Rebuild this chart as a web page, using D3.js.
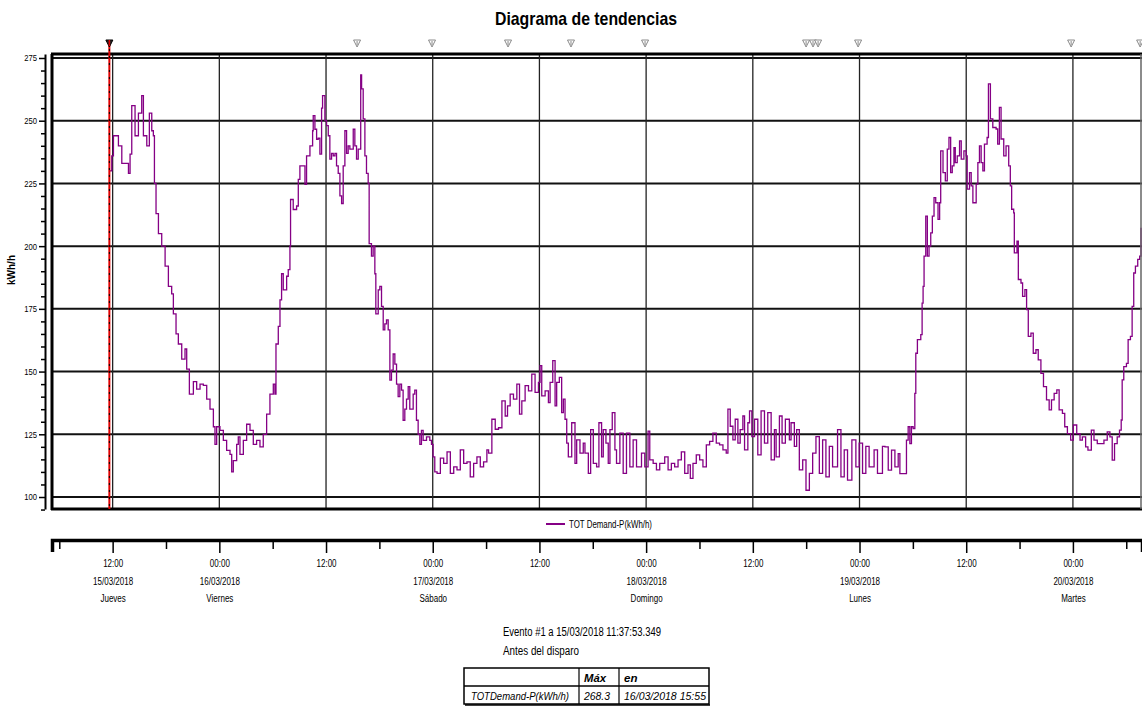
<!DOCTYPE html>
<html lang="es">
<head>
<meta charset="utf-8">
<script src="https://d3js.org/d3.v7.min.js"></script>
<style>
  body { margin: 0; background: #fff; }
  svg text { font-family: "Liberation Sans", Arial, sans-serif; fill: #000; }
</style>
</head>
<body>
<svg width="1142" height="708"></svg>
<script>
// hours after 15/03/2018 00:00
var sampleHours = [11.63,11.90,12.09,12.65,13.03,13.78,13.96,14.15,14.52,14.90,15.27,15.46,15.84,16.13,16.40,16.58,16.70,16.88,17.15,17.52,17.90,18.27,18.64,18.83,19.13,19.39,19.77,20.14,20.33,20.63,21.08,21.45,21.83,22.20,22.58,22.95,23.33,23.51,23.70,24.07,24.45,24.82,25.20,25.39,25.57,25.95,26.13,26.32,26.70,27.07,27.45,27.82,28.19,28.57,28.94,29.32,29.69,30.07,30.25,30.37,30.63,30.82,31.00,31.19,31.57,31.75,31.94,32.01,32.31,32.69,32.88,33.06,33.44,33.63,33.81,34.19,34.49,34.56,34.75,34.94,35.12,35.31,35.50,35.61,35.87,36.06,36.25,36.43,36.62,36.81,37.00,37.18,37.37,37.56,37.75,37.93,38.12,38.31,38.49,38.68,39.06,39.24,39.43,39.62,39.90,40.00,40.18,40.37,40.55,40.74,40.85,41.11,41.30,41.49,41.60,41.87,42.05,42.24,42.43,42.61,42.80,42.99,43.18,43.36,43.55,43.74,43.93,44.11,44.30,44.49,44.67,44.86,45.05,45.24,45.42,45.80,45.98,46.17,46.36,46.55,46.73,46.92,47.30,47.67,47.86,48.04,
  48.23,48.49,48.86,49.23,49.61,49.98,50.36,50.73,51.10,51.48,51.85,52.22,52.60,52.97,53.35,53.72,54.09,54.28,54.65,55.03,55.40,55.78,56.15,56.41,56.71,57.08,57.46,57.76,58.02,58.39,58.77,59.14,59.51,59.89,60.07,60.26,60.64,61.01,61.20,61.50,61.76,61.94,62.24,62.50,62.69,62.88,63.07,63.25,63.63,64.00,64.19,64.56,64.93,65.12,65.50,65.76,66.06,66.43,66.69,66.99,67.18,67.48,67.74,67.93,68.19,68.49,68.67,69.05,69.42,69.79,70.17,70.54,70.92,71.48,71.85,72.22,72.41,72.79,73.16,73.53,74.09,74.47,74.84,75.21,75.59,75.96,76.34,76.71,76.97,77.27,77.64,78.02,78.39,78.77,79.14,79.51,79.89,80.26,80.64,81.01,81.20,81.46,81.76,82.02,82.32,82.58,82.88,83.07,83.44,83.63,83.89,84.19,84.56,84.93,85.31,85.68,86.06,86.43,86.62,86.99,87.29,87.66,88.11,88.30,88.67,88.93,89.23,89.61,89.98,90.36,90.73,91.10,91.48,91.85,92.22,92.60,92.97,93.53,93.91,94.28,94.65,95.14,95.59,95.96,96.34,96.71,97.08,97.64,98.02,98.58,
  98.86,99.23,99.60,99.98,100.35,100.54,100.91,101.28,101.47,101.66,101.84,102.03,102.22,102.33,102.51,102.89,103.04,103.15,103.26,103.45,103.63,103.82,104.01,104.19,104.38,104.57,104.83,105.01,105.13,105.39,105.65,105.87,106.06,106.25,106.43,106.62,106.77,106.99,107.25,107.44,107.74,108.00,108.11,108.37,108.56,108.75,109.12,109.31,109.49,109.68,109.87,110.05,110.35,110.50,110.72,110.99,111.36,111.54,111.73,111.92,112.22,112.48,112.78,112.96,113.11,113.34,113.41,113.71,113.86,114.16,114.34,114.60,114.79,114.98,115.28,115.54,115.84,116.10,116.40,116.69,117.03,117.33,117.59,117.89,118.19,118.45,118.82,119.08,119.38,119.75,120.05,120.43,120.80,121.06,121.43,121.69,122.07,122.37,122.74,123.11,123.49,123.86,124.16,124.42,124.68,124.98,125.24,125.43,125.54,125.72,126.02,126.21,126.47,126.66,126.84,127.03,127.29,127.51,127.66];
var demandKWh = [230,236,244,240,233,229,236.7,256,244,253,260,244,240,253,246,244,225,213,205,200,192,184,181,173,165,161,155,159,151,141,146,143,145,144.5,139,135,128,121,128,126.6,122.6,118.6,117,110,114.5,121,124,117,122.6,129,126.6,121,122.6,120,125,133,141,145,141,161,168,178.6,189,182.6,188,190.6,200,218.6,214.6,216,226.6,232,232,224.6,236,240,246,252,246.6,242.6,243,236.7,255,260,250,248,244,234.7,237,236,237,232,229,220,217,232,246,237,240,238.7,246.6,240,234.7,238.7,268.3,262.7,250.7,236,229,225,201,196,200,189,173,182.6,184,176,166.6,169,170.6,166.6,146.6,150.6,157,153,145,140,145,142.6,130.6,135,139,144,135,141,142.6,130.6,125,121,126.6,122.6,124,122.6,121,116,
  110,109.4,115.5,113.4,118,109.4,112,110.8,118.8,113.4,114,108,113.4,116,112,114,118.8,117.5,131,127,127.6,138.3,132.3,136.3,141,139,145,133,138.3,144.4,142.3,149,141.7,145.7,152.4,140.3,142.3,137.6,145.7,154.4,136.3,145.7,147.7,133.6,139,131,121.5,116,129.6,113.4,122.8,117.5,121.5,117.5,109.4,126.9,113.4,112,129.6,116,126.9,121.5,113.4,126.9,133.6,118.8,113.4,125.5,109.4,125.5,112,122.8,112,117.5,112,126.3,114.8,113.4,110.8,113.4,116,110.8,113.4,112,114.8,118,109.4,112.8,107.4,113.4,116.8,114.8,112,120.8,122.2,125.5,121.5,120.8,118.8,117.5,135,128.2,122.8,131,121.5,126.9,132.3,118.8,129.6,134.3,124.1,131,116.8,134.3,121.5,133.6,114.8,126.9,116,132.3,121.5,131,122.8,129.6,120.2,126.9,110.8,114.8,102.7,109.4,117.5,124.1,109.4,122.8,108,120.2,112,126.9,108,118.8,106.7,122.8,112,121.5,109.4,120.2,112,118.8,109.4,120.2,
  120,110.7,118.7,112,117.3,109.3,109.3,122.7,128,121.3,128,127.3,141.3,157.3,162.7,164.7,177.3,184,196,212,196,200,205.3,212,219.3,217.3,210.7,217.3,238,229.3,226,238.7,243.3,229.3,232,239.3,233.3,236,242,234.7,238,236,222.7,229.3,224,217.3,224.7,233.3,240,233.3,230,240.7,243.3,264.7,250.7,247.3,246.7,240.7,255.3,242.7,236,240,232,224,214.7,213.3,197.3,202,186.7,185.3,180,182.7,174.7,164,165.3,157.3,158.7,154.7,149.3,144,138.7,134.7,138.7,141.3,142.7,134.7,133.3,128,125.3,122.7,128.7,125.3,122.7,124,120,118.7,126.7,122.7,121.3,121.3,122.7,126,124,114.7,121.3,124,126.7,130.7,146.7,152,153.3,162.7,164,176,189.3,192,194.7,196,207.3];
var markerHours = [39.49,47.92,56.47,63.55,71.88,89.99,90.77,91.34,95.84,119.80,127.56];
var eventHour = 11 + 37 / 60 + 53.349 / 3600;
var weekdays = ["Jueves", "Viernes", "Sábado", "Domingo", "Lunes", "Martes"];
var yGrid = [100, 125, 150, 175, 200, 225, 250, 275];
var seriesName = "TOT Demand-P(kWh/h)";
var tableHeader = ["", "Máx", "en"];
var tableRow = ["TOTDemand-P(kWh/h)", "268.3", "16/03/2018 15:55"];

var t0 = new Date(2018, 2, 15, 0, 0, 0);
function at(h) { return new Date(t0.getTime() + h * 3600e3); }

// squeeze text horizontally, the original uses a very narrow face
function squeeze(sel, k) {
  sel.each(function() {
    var w = this.getComputedTextLength();
    if (w > 0) d3.select(this).attr("textLength", w * k).attr("lengthAdjust", "spacingAndGlyphs");
  });
}

var svg = d3.select("svg");
var pLeft = 52, pRight = 1142, pTop = 54, pBottom = 509;

var x = d3.scaleTime().domain([at(5.18), at(127.77)]).range([pLeft, pRight]);
var y = d3.scaleLinear().domain([95.22, 276.59]).range([pBottom, pTop]);

// title
svg.append("text").attr("x", 586).attr("y", 25).attr("text-anchor", "middle")
  .style("font-size", "19px").style("font-weight", "bold")
  .attr("textLength", 182).attr("lengthAdjust", "spacingAndGlyphs")
  .text("Diagrama de tendencias");

// gridlines
var grid = svg.append("g");
grid.selectAll(".hg").data(yGrid).enter().append("line")
  .attr("x1", pLeft).attr("x2", pRight)
  .attr("y1", function(d) { return y(d); }).attr("y2", function(d) { return y(d); })
  .attr("stroke", "#111").attr("stroke-width", 2);
var vTicks = d3.timeHour.every(12).range(x.domain()[0], x.domain()[1]);
grid.selectAll(".vg").data(vTicks).enter().append("line")
  .attr("x1", function(d) { return x(d); }).attr("x2", function(d) { return x(d); })
  .attr("y1", pTop).attr("y2", pBottom)
  .attr("stroke", "#222").attr("stroke-width", 1.3);

// series
svg.append("clipPath").attr("id", "clip").append("rect")
  .attr("x", pLeft).attr("y", pTop).attr("width", pRight - pLeft).attr("height", pBottom - pTop);
var line = d3.line()
  .x(function(d, i) { return x(at(sampleHours[i])); })
  .y(function(d) { return y(d); })
  .curve(d3.curveStepAfter);
svg.append("path").datum(demandKWh)
  .attr("clip-path", "url(#clip)")
  .attr("fill", "none").attr("stroke", "#850085").attr("stroke-width", 1.3)
  .attr("d", line);

// plot frame
svg.append("line").attr("x1", pLeft - 1).attr("x2", pRight).attr("y1", pTop).attr("y2", pTop)
  .attr("stroke", "#000").attr("stroke-width", 3);
svg.append("line").attr("x1", pLeft - 1).attr("x2", pRight).attr("y1", pBottom).attr("y2", pBottom)
  .attr("stroke", "#000").attr("stroke-width", 3);
svg.append("line").attr("x1", pLeft).attr("x2", pLeft).attr("y1", pTop).attr("y2", pBottom + 1)
  .attr("stroke", "#000").attr("stroke-width", 3);
svg.append("line").attr("x1", pRight - 1).attr("x2", pRight - 1).attr("y1", pTop).attr("y2", pBottom)
  .attr("stroke", "#666").attr("stroke-width", 1.5);

// y axis
var yAxis = d3.axisLeft(y).tickValues(d3.range(95, 277, 5))
  .tickSize(4).tickSizeOuter(0).tickPadding(3)
  .tickFormat(function(d) { return d % 25 === 0 ? d : ""; });
var yg = svg.append("g").attr("transform", "translate(45,0)").call(yAxis);
yg.select(".domain").attr("stroke-width", 2);
yg.selectAll(".tick line").attr("stroke-width", 1.5)
  .attr("x2", function(d) { return d % 25 === 0 ? -6 : -4; });
yg.selectAll(".tick text").style("font-size", "9px").style("font-family", "Liberation Sans").attr("x", -8);
squeeze(yg.selectAll(".tick text"), 0.85);
svg.append("text").attr("transform", "translate(15,270) rotate(-90)")
  .attr("text-anchor", "middle").style("font-size", "10px").style("font-weight", "bold").text("kWh/h");

// event line
var ex = x(at(eventHour));
svg.append("line").attr("x1", ex).attr("x2", ex).attr("y1", 42).attr("y2", pBottom)
  .attr("stroke", "#e00000").attr("stroke-width", 2);
svg.append("line").attr("x1", ex).attr("x2", ex).attr("y1", 42).attr("y2", pBottom)
  .attr("stroke", "#000").attr("stroke-width", 1).attr("stroke-dasharray", "2,5");

// top markers
var pin = "M-3.5,0 L3.5,0 L0,7 Z M0,1 L0,5";
svg.selectAll(".mk").data(markerHours).enter().append("path")
  .attr("transform", function(d) { return "translate(" + x(at(d)) + ",40)"; })
  .attr("d", pin).attr("fill", "#fff").attr("stroke", "#8a8a8a").attr("stroke-width", 1);
svg.append("path").attr("transform", "translate(" + ex + ",40)")
  .attr("d", "M-3.5,0 L3.5,0 L0,7 Z").attr("fill", "#222").attr("stroke", "#000");
svg.append("line").attr("x1", ex).attr("x2", ex).attr("y1", 40).attr("y2", 46)
  .attr("stroke", "#e00000").attr("stroke-width", 1.5);

// legend
svg.append("line").attr("x1", 546).attr("x2", 565).attr("y1", 524).attr("y2", 524)
  .attr("stroke", "#850085").attr("stroke-width", 2);
svg.append("text").attr("x", 569).attr("y", 527.5).style("font-size", "10px")
  .attr("textLength", 83).attr("lengthAdjust", "spacingAndGlyphs").text(seriesName);

// bottom time axis
var xAxis = d3.axisBottom(x).ticks(d3.timeHour.every(6)).tickSizeOuter(0)
  .tickSize(12).tickFormat("");
var xg = svg.append("g").attr("transform", "translate(0,540)").call(xAxis);
xg.select(".domain").attr("stroke-width", 3.5);
xg.selectAll(".tick line").attr("stroke-width", 1.5)
  .attr("y2", function(d) { return d.getHours() % 12 === 0 ? 13 : 9; });
var fmtTime = d3.timeFormat("%H:%M"), fmtDate = d3.timeFormat("%d/%m/%Y");
var first = true;
xg.selectAll(".tick").each(function(d) {
  if (d.getHours() % 12 !== 0) return;
  var g = d3.select(this);
  g.append("text").attr("y", 27).text(fmtTime(d));
  if (d.getHours() === 0 || first) {
    var day = Math.round((d - t0) / 864e5 - 0.25);
    g.append("text").attr("y", 45).text(fmtDate(d));
    g.append("text").attr("y", 62).text(weekdays[day]);
  }
  first = false;
});
xg.selectAll(".tick text").attr("x", 0).attr("text-anchor", "middle")
  .attr("fill", "#000").style("font-size", "10px").style("font-family", "Liberation Sans");
squeeze(xg.selectAll(".tick text"), 0.8);

// event text
var ev1 = svg.append("text").attr("x", 503).attr("y", 636).style("font-size", "12px")
  .text("Evento #1 a 15/03/2018 11:37:53.349");
var ev2 = svg.append("text").attr("x", 503).attr("y", 655).style("font-size", "12px")
  .text("Antes del disparo");
ev1.attr("textLength", 158).attr("lengthAdjust", "spacingAndGlyphs");
squeeze(ev2, 0.82);

// max table
var cols = [464, 579, 619, 709], rows = [668, 686, 704];
var tb = svg.append("g");
tb.append("rect").attr("x", cols[0]).attr("y", rows[0]).attr("width", cols[3] - cols[0])
  .attr("height", rows[2] - rows[0]).attr("fill", "none").attr("stroke", "#000").attr("stroke-width", 1.5);
tb.append("line").attr("x1", cols[0]).attr("x2", cols[3]).attr("y1", rows[1]).attr("y2", rows[1])
  .attr("stroke", "#000").attr("stroke-width", 1.5);
tb.append("line").attr("x1", cols[0] + 1).attr("x2", cols[3] + 1).attr("y1", rows[2] + 1).attr("y2", rows[2] + 1)
  .attr("stroke", "#000").attr("stroke-width", 1.5);
[cols[1], cols[2]].forEach(function(c) {
  tb.append("line").attr("x1", c).attr("x2", c).attr("y1", rows[0]).attr("y2", rows[2])
    .attr("stroke", "#000").attr("stroke-width", 1.2);
});
var cellW = [[0, 22, 0], [98, 26, 82]];
[tableHeader, tableRow].forEach(function(r, ri) {
  r.forEach(function(s, ci) {
    if (!s) return;
    var t = tb.append("text").attr("x", cols[ci] + (ci === 0 ? 7 : 5)).attr("y", rows[ri] + 13.5)
      .style("font-size", ri === 0 ? "11.5px" : "10.5px").style("font-style", "italic")
      .style("font-weight", ri === 0 ? "bold" : "normal").text(s);
    if (cellW[ri][ci]) t.attr("textLength", cellW[ri][ci]).attr("lengthAdjust", "spacingAndGlyphs");
  });
});
</script>
</body>
</html>
